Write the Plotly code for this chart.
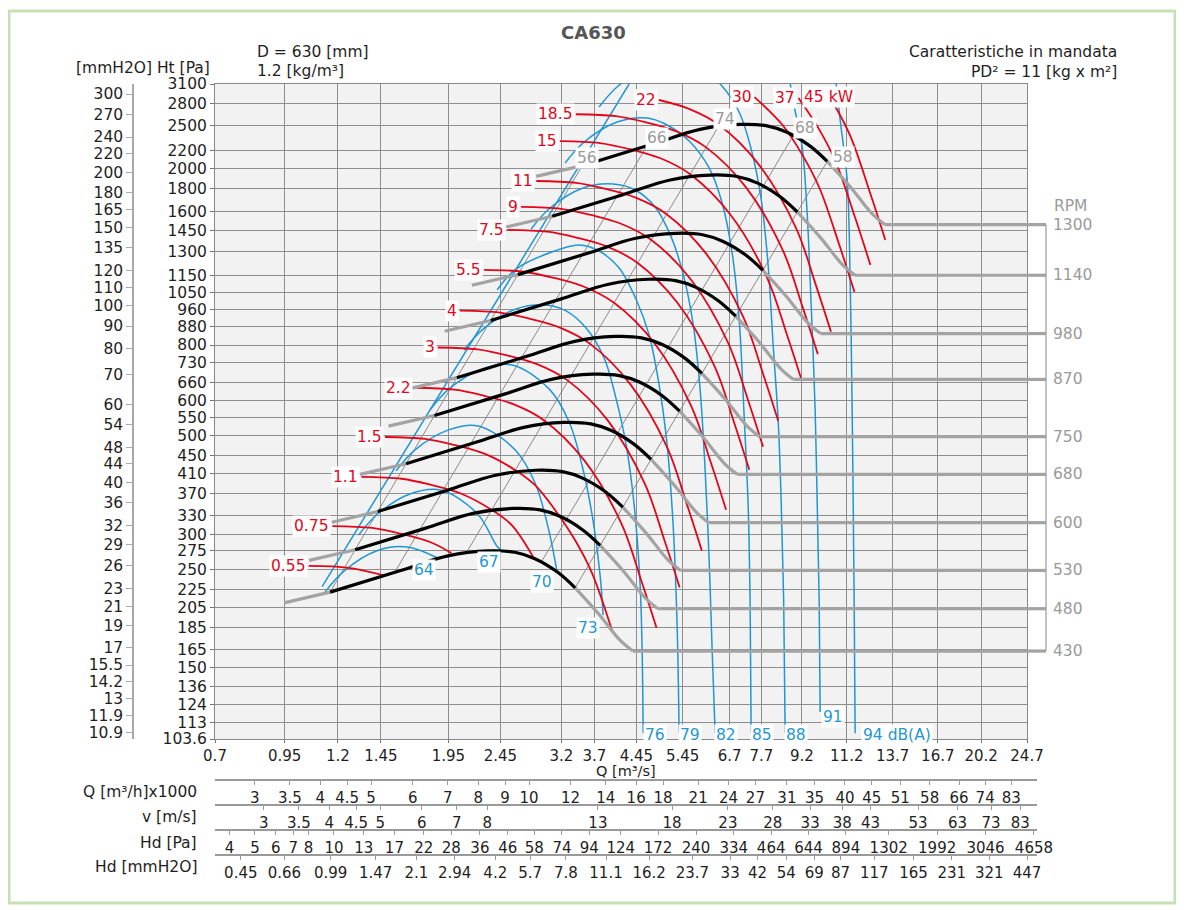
import math
import plotly.graph_objects as go

FONT = "DejaVu Sans"

# ---------------- axis scales ----------------
Q_TICKS = [0.7, 0.95, 1.2, 1.45, 1.95, 2.45, 3.2, 3.7, 4.45, 5.45, 6.7, 7.7,
           9.2, 11.2, 13.7, 16.7, 20.2, 24.7]
PA_TICKS = [3100, 2800, 2500, 2200, 2000, 1800, 1600, 1450, 1300, 1150, 1050,
            960, 880, 800, 730, 660, 600, 550, 500, 450, 410, 370, 330, 300,
            275, 250, 225, 205, 185, 165, 150, 136, 124, 113, 103.6]
MM_TICKS = [300, 270, 240, 220, 200, 180, 165, 150, 135, 120, 110, 100, 90, 80,
            70, 60, 54, 48, 44, 40, 36, 32, 29, 26, 23, 21, 19, 17, 15.5, 14.2,
            13, 11.9, 10.9]

# ---------------- bottom scales ----------------
QH_LABELS = [3, 3.5, 4, 4.5, 5, 6, 7, 8, 9, 10, 12, 14, 16, 18, 21, 24, 27, 31,
             35, 40, 45, 51, 58, 66, 74, 83]
V_LABELS = [3, 3.5, 4, 4.5, 5, 6, 7, 8, 13, 18, 23, 28, 33, 38, 43, 53, 63, 73, 83]
HD_PA_LABELS = [4, 5, 6, 7, 8, 10, 13, 17, 22, 28, 36, 46, 58, 74, 94, 124, 172,
                240, 334, 464, 644, 894, 1302, 1992, 3046, 4658]
HD_MM_LABELS = [0.45, 0.66, 0.99, 1.47, 2.1, 2.94, 4.2, 5.7, 7.8, 11.1, 16.2,
                23.7, 33, 42, 54, 69, 87, 117, 165, 231, 321, 447]
OUTLET_AREA = 0.289   # m2
RHO = 1.2             # kg/m3
G = 9.81

# ---------------- fan curves (Q m3/s, Ht Pa) ----------------
# index 0-1 unstable (grey), 1-8 working range (black), 8-11 grey, 11 -> horizontal
RPM = [430, 480, 530, 600, 680, 750, 870, 980, 1140, 1300]
FAN430_Q = [0.948, 1.16, 1.576, 1.946, 2.32, 2.61, 2.85, 3.15, 3.40, 3.76, 4.14, 4.38]
FAN430_P = [210, 222, 248, 268, 275, 273, 264, 246, 227, 199, 173, 163.5]
FAN480_Q = [1.058, 1.295, 1.759, 2.172, 2.590, 2.914, 3.181, 3.516, 3.795, 4.197, 4.621, 4.889]
FAN480_P = [261.7, 276.6, 309.0, 334.0, 342.7, 340.2, 329.0, 306.5, 282.9, 248.0, 215.6, 203.7]
FAN530_Q = [1.169, 1.430, 1.943, 2.399, 2.860, 3.217, 3.513, 3.883, 4.191, 4.635, 5.103, 5.399]
FAN530_P = [319.0, 337.3, 376.8, 407.1, 417.8, 414.7, 401.1, 373.7, 344.9, 302.3, 262.8, 248.4]
FAN600_Q = [1.323, 1.619, 2.199, 2.715, 3.237, 3.642, 3.977, 4.395, 4.744, 5.246, 5.777, 6.111]
FAN600_P = [408.9, 432.2, 482.9, 521.8, 535.4, 531.5, 514.0, 479.0, 442.0, 387.5, 336.8, 318.3]
FAN680_Q = [1.499, 1.834, 2.492, 3.077, 3.669, 4.127, 4.507, 4.981, 5.377, 5.946, 6.547, 6.927]
FAN680_P = [525.2, 555.2, 620.2, 670.2, 687.7, 682.7, 660.2, 615.2, 567.7, 497.7, 432.6, 408.9]
FAN750_Q = [1.654, 2.023, 2.749, 3.394, 4.047, 4.552, 4.971, 5.494, 5.930, 6.558, 7.221, 7.640]
FAN750_P = [638.9, 675.4, 754.5, 815.3, 836.6, 830.5, 803.1, 748.4, 690.6, 605.4, 526.3, 497.4]
FAN870_Q = [1.918, 2.347, 3.189, 3.937, 4.694, 5.281, 5.766, 6.373, 6.879, 7.608, 8.376, 8.862]
FAN870_P = [859.6, 908.8, 1015.2, 1097.1, 1125.7, 1117.5, 1080.7, 1007.0, 929.2, 814.6, 708.2, 669.3]
FAN980_Q = [2.161, 2.644, 3.592, 4.435, 5.288, 5.948, 6.495, 7.179, 7.749, 8.569, 9.435, 9.982]
FAN980_P = [1090.8, 1153.1, 1288.2, 1392.0, 1428.4, 1418.0, 1371.3, 1277.8, 1179.1, 1033.6, 898.6, 849.2]
FAN1140_Q = [2.513, 3.075, 4.178, 5.159, 6.151, 6.920, 7.556, 8.351, 9.014, 9.969, 10.976, 11.612]
FAN1140_P = [1476.0, 1560.4, 1743.1, 1883.7, 1932.9, 1918.8, 1855.6, 1729.1, 1595.5, 1398.7, 1216.0, 1149.2]
FAN1300_Q = [2.866, 3.507, 4.765, 5.883, 7.014, 7.891, 8.616, 9.523, 10.279, 11.368, 12.516, 13.242]
FAN1300_P = [1919.4, 2029.1, 2266.7, 2449.5, 2513.5, 2495.2, 2412.8, 2248.5, 2074.8, 1818.9, 1581.2, 1494.4]

# ---------------- efficiency lines ----------------
EFF_LABELS = ["56", "66", "74", "68", "58"]
EFF_Q0 = [1.16, 1.54, 2.105, 2.927, 3.40]
EFF_P0 = [222, 246, 271, 259, 227]
EFF_Q1 = [3.507, 4.66, 6.365, 8.85, 10.279]
EFF_P1 = [2029, 2250, 2477, 2370, 2075]
EFF_LQ = [3.583, 4.873, 6.567, 9.330, 11.023]
EFF_LP = [2112, 2343, 2585, 2467, 2123]

# ---------------- absorbed power curves (kW) ----------------
KW_LABELS = ["0.55", "0.75", "1.1", "1.5", "2.2", "3", "4", "5.5", "7.5", "9",
             "11", "15", "18.5", "22", "30", "37", "45 kW"]
KW0_55_Q = [1.056, 1.259, 1.468]
KW0_55_P = [254.3, 251.8, 242.1]
KW0_75_Q = [1.172, 1.396, 1.592, 1.817, 1.975]
KW0_75_P = [312.8, 309.7, 300.0, 286.5, 271.8]
KW1_1_Q = [1.331, 1.587, 1.809, 2.064, 2.355, 2.572, 2.83]
KW1_1_P = [403.8, 399.8, 387.2, 369.9, 340.4, 314.6, 266]
KW1_5_Q = [1.476, 1.759, 2.006, 2.289, 2.611, 2.852, 3.113, 3.398, 3.660, 3.996]
KW1_5_P = [496.5, 491.5, 476.1, 454.8, 418.5, 386.8, 340.1, 290.9, 245.3, 182.2]
KW2_2_Q = [1.68, 2.003, 2.283, 2.606, 2.972, 3.543, 4.166, 4.548, 4.859]
KW2_2_P = [641, 634.6, 614.7, 587.2, 540.4, 439.1, 316.7, 235.2, 184.6]
KW3_Q = [1.86, 2.217, 2.528, 2.885, 3.290, 3.923, 4.613, 5.035, 5.379]
KW3_P = [790, 782.1, 757.6, 723.6, 666.0, 541.2, 390.3, 289.9, 227.5]
KW4_Q = [2.05, 2.444, 2.786, 3.180, 3.626, 4.323, 5.084, 5.549, 5.929]
KW4_P = [956, 946.4, 916.8, 875.7, 805.9, 654.9, 472.3, 350.9, 275.3]
KW5_5_Q = [2.28, 2.718, 3.099, 3.536, 4.033, 4.809, 5.654, 6.172, 6.594]
KW5_5_P = [1182, 1170.2, 1133.5, 1082.7, 996.4, 809.7, 583.9, 433.8, 340.4]
KW7_5_Q = [2.525, 3.010, 3.431, 3.916, 4.467, 5.325, 6.262, 6.835, 7.302]
KW7_5_P = [1455, 1440.5, 1395.3, 1332.8, 1226.6, 996.7, 718.8, 534.0, 419.0]
KW9_Q = [2.682, 3.197, 3.645, 4.160, 4.744, 5.656, 6.651, 7.260, 7.756]
KW9_P = [1639, 1622.6, 1571.8, 1501.3, 1381.7, 1122.7, 809.7, 601.5, 472.0]
KW11_Q = [2.867, 3.417, 3.896, 4.447, 5.072, 6.047, 7.110, 7.761, 8.291]
KW11_P = [1874, 1855.3, 1797.2, 1716.6, 1579.8, 1283.7, 925.8, 687.8, 539.7]
KW15_Q = [3.18, 3.791, 4.322, 4.932, 5.625, 6.707, 7.886, 8.608, 9.197]
KW15_P = [2305, 2282.0, 2210.5, 2111.4, 1943.1, 1578.9, 1138.7, 845.9, 663.8]
KW18_5_Q = [3.41, 4.065, 4.634, 5.289, 6.032, 7.192, 8.457, 9.231, 9.862]
KW18_5_P = [2650, 2623.5, 2541.4, 2427.4, 2234.0, 1815.3, 1309.1, 972.6, 763.2]
KW22_Q = [4.910, 5.604, 6.391, 7.620, 8.960, 9.780, 10.449]
KW22_P = [2853, 2725.1, 2508, 2038, 1469.7, 1091.8, 856.8]
KW30_Q = [7.471, 8.449, 9.222, 9.935, 10.844, 11.585]
KW30_P = [2897, 2505.7, 2143.6, 1807.1, 1342.5, 1053.5]
KW37_Q = [9.060, 9.889, 10.654, 11.629, 12.424]
KW37_P = [2881.8, 2465.3, 2078.3, 1544.0, 1211.6]
KW45_Q = [10.557, 11.373, 12.414, 13.263]
KW45_P = [2809.3, 2368.2, 1759.4, 1380.7]
KW45_LABEL_Q = 10.32
KW45_LABEL_P = 2898

# ---------------- noise curves dB(A) ----------------
DB_EDGE_Q = [1.12, 4.309]
DB_EDGE_P = [228.4, 3100]
DB64_Q = [1.135, 1.234, 1.425, 1.626, 1.855]
DB64_P = [222.3, 247.9, 275.2, 280.6, 265.4]
DB67_Q = [1.314, 1.429, 1.651, 1.884, 2.216, 2.419, 2.478]
DB67_P = [298.4, 333, 370, 377.1, 333, 280.6, 273.8]
DB70_Q = [1.550, 1.684, 1.946, 2.221, 2.612, 2.852, 3.019, 3.141]
DB70_P = [416.4, 464.5, 514.5, 525.5, 464.5, 391.0, 311.1, 246.5]
DB73_Q = [1.799, 1.955, 2.260, 2.578, 3.033, 3.312, 3.506, 3.663, 3.793, 3.844]
DB73_P = [571.7, 637.3, 706.4, 721.3, 637.3, 536.5, 427.6, 331.3, 242.7, 197.0]
DB76_Q = [2.089, 2.270, 2.623, 2.993, 3.268, 3.568, 3.861, 4.070, 4.253, 4.405, 4.522, 4.562, 4.583]
DB76_P = [780.0, 869.2, 964.7, 984.9, 954.8, 873.7, 748.3, 605.1, 476.5, 349.2, 230.8, 164.4, 106.8]
DB79_Q = [2.414, 2.623, 3.033, 3.460, 3.777, 4.124, 4.463, 4.704, 4.915, 5.091, 5.227, 5.319, 5.366]
DB79_P = [1064.8, 1186.8, 1289.7, 1345.0, 1303.1, 1193.0, 1001.6, 842.6, 650.6, 476.5, 314.4, 187.0, 106.8]
DB82_Q = [2.803, 3.046, 3.521, 4.016, 4.424, 4.830, 5.182, 5.461, 5.707, 5.885, 6.015, 6.122, 6.203, 6.285]
DB82_P = [1460.6, 1628.9, 1807.2, 1845, 1788.6, 1637.4, 1402.1, 1157, 892, 634.0, 418.6, 262.4, 164.4, 106.8]
DB85_Q = [3.254, 3.537, 4.088, 4.663, 5.047, 5.608, 6.122, 6.481, 6.772, 6.983, 7.138, 7.265, 7.329, 7.361]
DB85_P = [2057.6, 2294.6, 2545.2, 2598.6, 2519, 2306.7, 2005.0, 1671.6, 1289.7, 915.9, 554.4, 347.4, 206.8, 106.8]
DB88_Q = [3.777, 4.106, 4.745, 5.414, 5.911, 6.453, 6.983, 7.362, 7.691, 7.930, 8.107, 8.287, 8.397, 8.490, 8.546]
DB88_P = [2752, 3068, 3403, 3475, 3368, 3084, 2681, 2213, 1707, 1211.7, 800.8, 542.1, 358.3, 213.4, 106.8]
DB91_Q = [8.584, 8.736, 8.929, 9.208, 9.412, 9.537, 9.748, 9.834, 9.921, 9.965]
DB91_P = [3333, 3100, 2695, 2236, 1587, 1121, 571.7, 358.3, 213.4, 119.2]
DB94_Q = [10.550, 10.690, 10.879, 11.218, 11.367, 11.467, 11.518, 11.568, 11.619]
DB94_P = [3333, 3100, 2572, 1884, 1121, 571.7, 358.3, 213.4, 106.8]
DB_LABELS = ["64", "67", "70", "73", "76", "79", "82", "85", "88", "91", "94 dB(A)"]
DB_LQ = [1.752, 2.331, 2.941, 3.599, 4.830, 5.632, 6.596, 7.725, 8.968, 10.55, 13.97]
DB_LP = [249.1, 259.7, 234.4, 184.1, 105.6, 105.6, 105.6, 105.6, 105.6, 116.2, 105.6]

# ---------------- styling ----------------
RED = "#e3061b"
BLUE = "#1f97d4"
GREY = "#a3a3a3"
GRID = "#8e8e8e"
TXT = "#1e1e1e"

# the page adds an 8 px body margin, so the figure is 8 px smaller
W, H = 1176, 902
REF_L, REF_R, REF_T, REF_B = 100, 1037, 84, 870   # plot area in page pixels
PW, PH = REF_R - REF_L, REF_B - REF_T


def pxp(x):
    return (x - REF_L) / PW


def pyp(y):
    return (REF_B - y) / PH


def lg(v):
    return math.log10(v)


def fmt(v):
    return "%g" % v


X0_DOM, X1_DOM = pxp(215), pxp(1027)
Y0_DOM = pyp(739)
XR = [lg(Q_TICKS[0]), lg(Q_TICKS[-1])]
YR = [lg(PA_TICKS[-1]), lg(PA_TICKS[0])]
DEC_PER_PX = (XR[1] - XR[0]) / (1027 - 215)

fig = go.Figure()


def line_trace(q, p, color, width, shape="linear", axis=("x", "y")):
    return go.Scatter(x=q, y=p, mode="lines", xaxis=axis[0], yaxis=axis[1],
                      line=dict(color=color, width=width, shape=shape, smoothing=1.0),
                      hoverinfo="skip", showlegend=False)


# efficiency lines (thin grey)
for q0, p0, q1, p1 in zip(EFF_Q0, EFF_P0, EFF_Q1, EFF_P1):
    fig.add_trace(line_trace([q0, q1], [p0, p1], "#8a8a8a", 1))

# noise curves
fig.add_trace(line_trace(DB_EDGE_Q, DB_EDGE_P, BLUE, 1.5))
for q, p in [(DB64_Q, DB64_P), (DB67_Q, DB67_P), (DB70_Q, DB70_P), (DB73_Q, DB73_P),
             (DB76_Q, DB76_P), (DB79_Q, DB79_P), (DB82_Q, DB82_P), (DB85_Q, DB85_P),
             (DB88_Q, DB88_P), (DB91_Q, DB91_P), (DB94_Q, DB94_P)]:
    fig.add_trace(line_trace(q, p, BLUE, 1.5, "spline"))

# power curves
KW_CURVES = [(KW0_55_Q, KW0_55_P), (KW0_75_Q, KW0_75_P), (KW1_1_Q, KW1_1_P),
             (KW1_5_Q, KW1_5_P), (KW2_2_Q, KW2_2_P), (KW3_Q, KW3_P), (KW4_Q, KW4_P),
             (KW5_5_Q, KW5_5_P), (KW7_5_Q, KW7_5_P), (KW9_Q, KW9_P), (KW11_Q, KW11_P),
             (KW15_Q, KW15_P), (KW18_5_Q, KW18_5_P), (KW22_Q, KW22_P), (KW30_Q, KW30_P),
             (KW37_Q, KW37_P), (KW45_Q, KW45_P)]
for q, p in KW_CURVES:
    fig.add_trace(line_trace(q, p, RED, 1.8, "spline"))

# fan curves
FAN_CURVES = [(FAN430_Q, FAN430_P), (FAN480_Q, FAN480_P), (FAN530_Q, FAN530_P),
              (FAN600_Q, FAN600_P), (FAN680_Q, FAN680_P), (FAN750_Q, FAN750_P),
              (FAN870_Q, FAN870_P), (FAN980_Q, FAN980_P), (FAN1140_Q, FAN1140_P),
              (FAN1300_Q, FAN1300_P)]
for q, p in FAN_CURVES:
    fig.add_trace(line_trace(q[0:2], p[0:2], GREY, 3.2))
    fig.add_trace(line_trace(q[8:12], p[8:12], GREY, 3.2, "spline"))
    fig.add_trace(line_trace([q[11], Q_TICKS[-1]], [p[11], p[11]], GREY, 3.2))
    fig.add_trace(line_trace(q[1:9], p[1:9], "#000000", 3.2, "spline"))

# invisible helper trace so the mmH2O axis is drawn
fig.add_trace(go.Scatter(x=[1], y=[100], xaxis="x", yaxis="y2", mode="markers",
                         marker=dict(opacity=0), hoverinfo="skip", showlegend=False))

# bottom scale rows
row_pos = [
    [v * 1000 / 3600 for v in QH_LABELS],
    [v * OUTLET_AREA for v in V_LABELS],
    [OUTLET_AREA * math.sqrt(2 * h / RHO) for h in HD_PA_LABELS],
    [OUTLET_AREA * math.sqrt(2 * h * G / RHO) for h in HD_MM_LABELS],
]
row_text = [[fmt(v) for v in QH_LABELS], [fmt(v) for v in V_LABELS],
            [fmt(v) for v in HD_PA_LABELS], [fmt(v) for v in HD_MM_LABELS]]
row_names = ["Q [m³/h]x1000", "v [m/s]", "Hd [Pa]", "Hd [mmH2O]"]
row_line_px = [779, 804, 829, 854]
row_range = [XR[0], XR[0] + (1037 - 215) * DEC_PER_PX]

layout_axes = {}
for i in range(4):
    xa = "xaxis%d" % (i + 3)
    ya = "yaxis%d" % (i + 3)
    yb = pyp(row_line_px[i])
    fig.add_trace(go.Scatter(x=[1], y=[0.5], xaxis="x%d" % (i + 3), yaxis="y%d" % (i + 3),
                             mode="markers", marker=dict(opacity=0), hoverinfo="skip",
                             showlegend=False))
    layout_axes[xa] = dict(type="log", domain=[X0_DOM, 1], range=row_range, anchor="y%d" % (i + 3),
                           tickmode="array", tickvals=row_pos[i], ticktext=row_text[i],
                           ticks="outside", ticklen=4, tickcolor="#9a9a9a", showline=True,
                           linecolor="#9a9a9a", linewidth=1.5, showgrid=False, zeroline=False,
                           tickangle=0, tickfont=dict(family=FONT, size=15, color=TXT))
    layout_axes[ya] = dict(domain=[yb, yb + 0.004], visible=False, range=[0, 1],
                           anchor="x%d" % (i + 3))

fig.update_layout(
    width=W, height=H,
    margin=dict(l=REF_L - 8, r=W - (REF_R - 8), t=REF_T - 8, b=H - (REF_B - 8), pad=0),
    paper_bgcolor="white", plot_bgcolor="rgba(0,0,0,0)",
    showlegend=False,
    font=dict(family=FONT, size=16, color=TXT),
    xaxis=dict(type="log", domain=[X0_DOM, X1_DOM], range=XR, anchor="y",
               tickmode="array", tickvals=Q_TICKS, ticktext=[fmt(v) for v in Q_TICKS],
               ticks="outside", ticklen=3, tickcolor="#777", showline=True, linecolor="#888",
               mirror=True, showgrid=True, gridcolor=GRID, gridwidth=1, zeroline=False,
               tickangle=0, tickfont=dict(family=FONT, size=15, color=TXT)),
    yaxis=dict(type="log", domain=[Y0_DOM, 1], range=YR, anchor="x",
               tickmode="array", tickvals=PA_TICKS, ticktext=[fmt(v) for v in PA_TICKS],
               ticks="outside", ticklen=4, tickcolor="#777", showline=True, linecolor="#888",
               mirror=True, showgrid=True, gridcolor=GRID, gridwidth=1, zeroline=False,
               tickfont=dict(family=FONT, size=15.5, color=TXT)),
    yaxis2=dict(type="log", overlaying="y", anchor="free", position=pxp(133), side="left",
                range=[lg(PA_TICKS[-1] / G), lg(PA_TICKS[0] / G)],
                tickmode="array", tickvals=MM_TICKS, ticktext=[fmt(v) for v in MM_TICKS],
                ticks="outside", ticklen=6, tickcolor="#a8a8a8", showline=True,
                linecolor="#a8a8a8", linewidth=1.5, showgrid=False, zeroline=False,
                tickfont=dict(family=FONT, size=15.5, color=TXT)),
    **layout_axes,
)

# ---------------- shapes ----------------
shapes = []
shapes.append(dict(type="rect", xref="x domain", yref="y domain", x0=0, x1=1, y0=0, y1=1,
                   fillcolor="#f2f2f2", line=dict(width=0), layer="below"))
shapes.append(dict(type="rect", xref="paper", yref="paper", x0=pxp(9), x1=pxp(1175),
                   y0=pyp(903), y1=pyp(11), line=dict(color="#c6e0b4", width=3),
                   fillcolor="rgba(0,0,0,0)", layer="above"))


def ypaper(p):
    return Y0_DOM + (lg(p) - YR[0]) / (YR[1] - YR[0]) * (1 - Y0_DOM)


for q, p in FAN_CURVES:
    shapes.append(dict(type="line", xref="paper", yref="paper", x0=X1_DOM, x1=pxp(1046),
                       y0=ypaper(p[11]), y1=ypaper(p[11]), line=dict(color=GREY, width=3.2)))
shapes.append(dict(type="line", xref="paper", yref="paper", x0=pxp(1046), x1=pxp(1046),
                   y0=ypaper(FAN430_P[11]), y1=ypaper(FAN1300_P[11]),
                   line=dict(color="#9a9a9a", width=1.2)))
fig.update_layout(shapes=shapes)

# ---------------- annotations ----------------
anns = []


def ann(text, x, y, xref="paper", yref="paper", color=TXT, size=16, xanchor="center",
        yanchor="middle", bg=None, bold=False, xshift=0, yshift=0):
    d = dict(text=("<b>%s</b>" % text) if bold else text, x=x, y=y, xref=xref, yref=yref,
             showarrow=False, xanchor=xanchor, yanchor=yanchor, xshift=xshift, yshift=yshift,
             font=dict(family=FONT, size=size, color=color))
    if bg:
        d["bgcolor"] = bg
        d["borderpad"] = 1
    return d


anns.append(ann("CA630", pxp(593), pyp(33), color="#555555", size=18, bold=True))
anns.append(ann("D = 630 [mm]", pxp(255), pyp(52), xanchor="left", size=15.5))
anns.append(ann("1.2 [kg/m³]", pxp(255), pyp(71), xanchor="left", size=15.5))
anns.append(ann("[mmH2O] Ht [Pa]", pxp(212), pyp(68), xanchor="right", size=15.5))
anns.append(ann("Caratteristiche in mandata", pxp(1119), pyp(52), xanchor="right", size=15.5))
anns.append(ann("PD² = 11 [kg x m²]", pxp(1119), pyp(72), xanchor="right", size=15.5))
anns.append(ann("Q [m³/s]", pxp(626), pyp(771), size=14.5))
for name, ypx in zip(row_names, [792, 817, 843, 867]):
    anns.append(ann(name, pxp(199), pyp(ypx), xanchor="right", size=15.5))

anns.append(ann("RPM", pxp(1052), pyp(206), xanchor="left", color="#9a9a9a", size=15.5))
for n, (q, p) in zip(RPM, FAN_CURVES):
    anns.append(ann(str(n), pxp(1051), ypaper(p[11]), xanchor="left", color="#9a9a9a",
                    size=15.5))

for lab, (q, p) in zip(KW_LABELS[:-1], KW_CURVES[:-1]):
    anns.append(ann(lab, lg(q[0]), lg(p[0]), "x", "y", color=RED, xanchor="right",
                    bg="white", xshift=-1, size=15.5))
anns.append(ann(KW_LABELS[-1], lg(KW45_LABEL_Q), lg(KW45_LABEL_P), "x", "y", color=RED,
                bg="white", size=15.5))

for lab, q, p in zip(EFF_LABELS, EFF_LQ, EFF_LP):
    anns.append(ann(lab, lg(q), lg(p), "x", "y", color="#9a9a9a", bg="white", size=15.5))

for lab, q, p in zip(DB_LABELS, DB_LQ, DB_LP):
    anns.append(ann(lab, lg(q), lg(p), "x", "y", color=BLUE, bg="white", size=15.5))

fig.update_layout(annotations=anns)

fig.write_html("out.html")
